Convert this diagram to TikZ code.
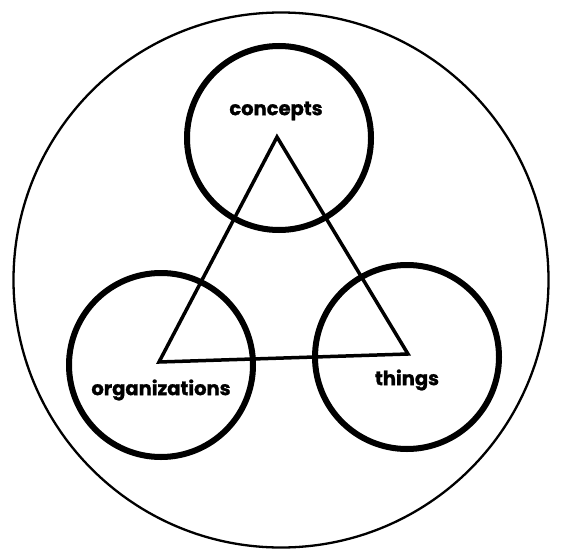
\documentclass[tikz,border=0pt]{standalone}
\usepackage{fontspec}
\setmainfont{Poppins}[BoldFont={Poppins Bold},BoldFeatures={FakeBold=1.2}]
\begin{document}
\begin{tikzpicture}[x=1pt,y=-1pt,
  outer/.style={draw=black,line width=2.3pt},
  ring/.style={draw=black,line width=6pt},
  tri/.style={draw=black,line width=3.5pt,line join=miter},
  lbl/.style={font=\bfseries\fontsize{19.5}{19.5}\selectfont,inner sep=0pt}]
\useasboundingbox (0,0) rectangle (561,559);
\node[outer,circle,minimum size=535pt,inner sep=0pt] (world) at (281,280) {};
\node[ring,circle,minimum size=184pt,inner sep=0pt] (cc) at (279,138) {};
\node[ring,circle,minimum size=184pt,inner sep=0pt] (oc) at (161,365) {};
\node[ring,circle,minimum size=184pt,inner sep=0pt] (tc) at (407,357) {};
\coordinate (A) at (277,137);
\coordinate (B) at (159,362);
\coordinate (C) at (408,354);
\draw[tri] (A) -- (B) -- (C) -- cycle;
\node[lbl] (l1) at (276,111) {concepts};
\node[lbl] (l2) at (161,390) {organizations};
\node[lbl] (l3) at (407,380) {things};
\end{tikzpicture}
\end{document}
